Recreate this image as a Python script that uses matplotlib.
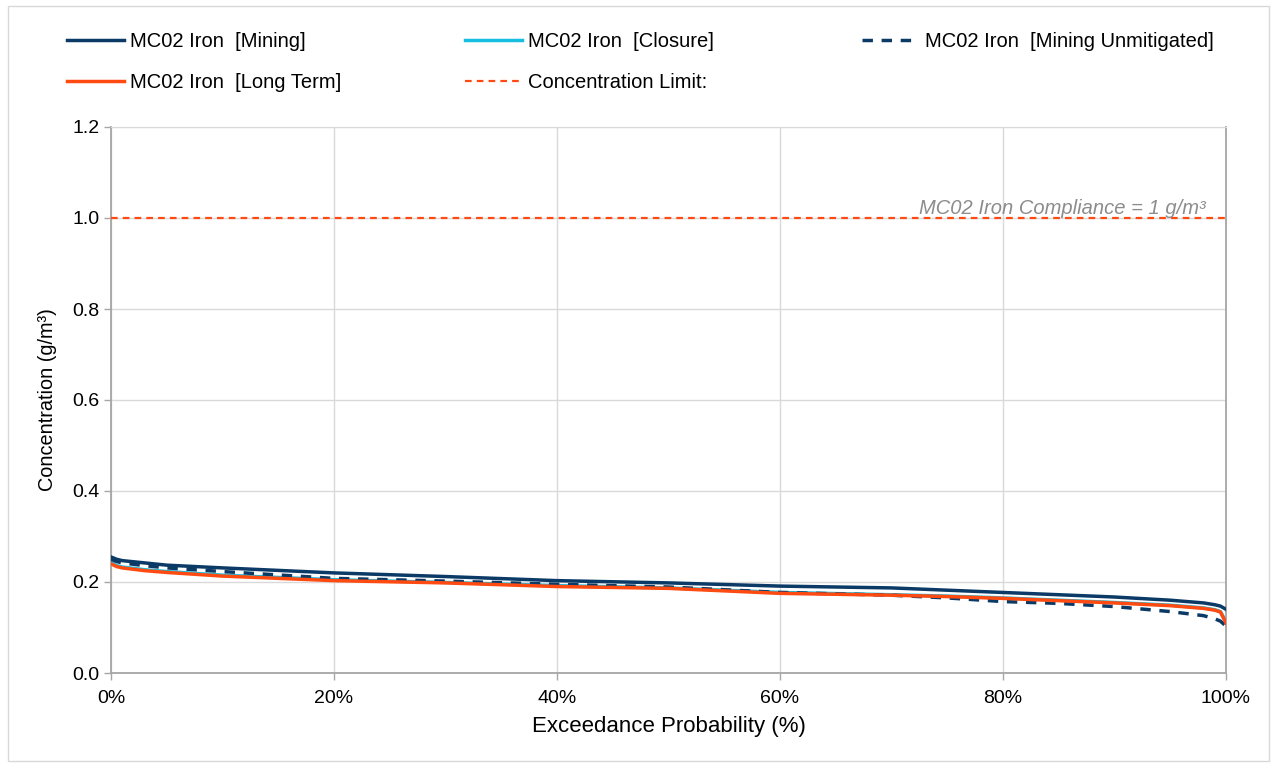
import matplotlib
matplotlib.use("Agg")
import matplotlib.pyplot as plt
from matplotlib.ticker import FuncFormatter, MultipleLocator
from matplotlib.patches import Rectangle

plt.rcParams['font.family'] = ['Liberation Sans', 'DejaVu Sans']

# Exceedance probability (%)
x_pts = [0, 0.5, 1, 3, 5, 10, 20, 30, 40, 50, 60, 70, 75, 80, 85, 90, 95, 98, 99, 99.5, 100]

mining = [0.255, 0.250, 0.247, 0.242, 0.237, 0.231, 0.220, 0.212, 0.203, 0.198, 0.191, 0.187, 0.182, 0.177, 0.172, 0.167, 0.160, 0.154, 0.150, 0.147, 0.140]
closure = [0.242, 0.236, 0.233, 0.227, 0.223, 0.215, 0.205, 0.199, 0.192, 0.187, 0.177, 0.172, 0.169, 0.165, 0.160, 0.155, 0.149, 0.143, 0.139, 0.135, 0.112]
unmitigated = [0.250, 0.245, 0.242, 0.236, 0.231, 0.223, 0.208, 0.202, 0.195, 0.189, 0.177, 0.171, 0.165, 0.157, 0.153, 0.146, 0.135, 0.126, 0.119, 0.114, 0.103]
long_term = [0.240, 0.234, 0.231, 0.225, 0.221, 0.213, 0.203, 0.198, 0.190, 0.186, 0.175, 0.171, 0.168, 0.164, 0.159, 0.154, 0.148, 0.142, 0.138, 0.134, 0.110]
limit = 1.0

W, H = 1277, 767
fig = plt.figure(figsize=(W / 100, H / 100), dpi=100)
ax = fig.add_axes([111 / W, 1 - 673 / H, (1226 - 111) / W, (673 - 127) / H])

fig.patches.append(Rectangle((8 / W, 6 / H), (W - 16) / W, (H - 12) / H, transform=fig.transFigure,
                             fill=False, edgecolor='#d9d9d9', linewidth=1))

navy = '#0b3a66'
cyan = '#16bfe0'
orange = '#ff4b12'

l1, = ax.plot(x_pts, mining, color=navy, lw=2.5, label='MC02 Iron  [Mining]', zorder=4)
l2, = ax.plot(x_pts, closure, color=cyan, lw=2.5, label='MC02 Iron  [Closure]', zorder=3)
l3, = ax.plot(x_pts, unmitigated, color=navy, lw=2.5, ls=(0, (3, 2.5)), label='MC02 Iron  [Mining Unmitigated]', zorder=3)
l4, = ax.plot(x_pts, long_term, color=orange, lw=2.5, label='MC02 Iron  [Long Term]', zorder=4)
l5 = ax.axhline(limit, color=orange, lw=1.6, ls=(0, (3, 2.3)), label='Concentration Limit:', zorder=3)

ax.text(98.2, limit + 0.0, 'MC02 Iron Compliance = 1 g/m³', ha='right', va='bottom',
        fontsize=14.5, style='italic', color='#8c8c8c')

ax.set_xlim(0, 100)
ax.set_ylim(0, 1.2)
ax.xaxis.set_major_locator(MultipleLocator(20))
ax.yaxis.set_major_locator(MultipleLocator(0.2))
ax.xaxis.set_major_formatter(FuncFormatter(lambda v, p: f'{v:.0f}%'))
ax.yaxis.set_major_formatter(FuncFormatter(lambda v, p: f'{v:.1f}'))
ax.grid(True, color='#d9d9d9', lw=1)
ax.set_axisbelow(True)
for s in ['left', 'bottom', 'right']:
    ax.spines[s].set_color('#a6a6a6')
    ax.spines[s].set_linewidth(1.3)
ax.spines['top'].set_color('#d9d9d9')
ax.tick_params(axis='both', colors='#a6a6a6', labelcolor='black', labelsize=14, length=5, width=1)
ax.tick_params(axis='x', pad=7)
ax.set_xlabel('Exceedance Probability (%)', fontsize=16, labelpad=7)
ax.set_ylabel('Concentration (g/m³)', fontsize=14.3, labelpad=11)

cols = [([l1, l4], 67), ([l2, l5], 465), ([l3], 862)]
for hs, xpx in cols:
    fig.legend(handles=hs, labels=[h.get_label() for h in hs], ncol=1,
               loc='upper left', bbox_to_anchor=(xpx / W, 1 - 32 / H), frameon=False,
               fontsize=14.5, handlelength=2.85, handletextpad=0.3,
               labelspacing=1.1, borderpad=0, borderaxespad=0)

fig.savefig('out.png', dpi=100)
